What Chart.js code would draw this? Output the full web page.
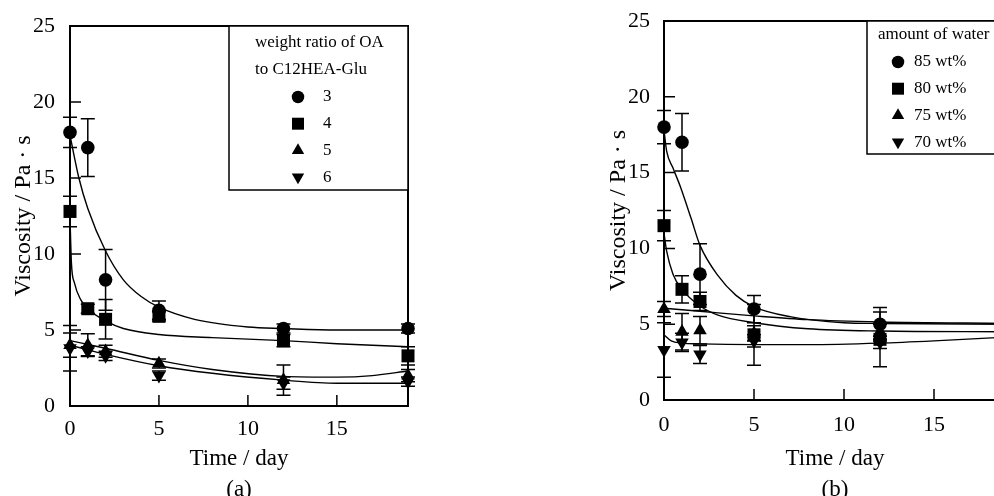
<!DOCTYPE html>
<html>
<head>
<meta charset="utf-8">
<script src="https://cdn.jsdelivr.net/npm/chart.js@4.4.1/dist/chart.umd.min.js"></script>
<style>
  html, body { margin: 0; padding: 0; background: #fff; overflow: hidden; width: 994px; height: 496px; }
  #chartA { position: absolute; left: 0; top: 0; }
  #chartB { position: absolute; left: 560px; top: 0; }
</style>
</head>
<body>
<canvas id="chartA" width="480" height="496"></canvas>
<canvas id="chartB" width="470" height="496"></canvas>
<script>
// ---- panel (a): weight ratio of OA to C12HEA-Glu ----
const daysA = [0, 1, 2, 5, 12, 19];
const ratio3 = [18.0, 17.0, 8.3, 6.3, 5.1, 5.1];
const ratio3Err = [1.0, 1.9, 2.0, 0.6, 0.3, 0.3];
const ratio4 = [12.8, 6.4, 5.7, 5.9, 4.3, 3.3];
const ratio4Err = [1.0, 0.3, 1.3, 0.3, 0.4, 0.6];
const ratio5 = [4.0, 4.0, 3.6, 2.8, 1.7, 2.0];
const ratio5Err = [0.8, 0.75, 0.4, 0.3, 1.0, 0.4];
const ratio6 = [3.8, 3.6, 3.3, 2.0, 1.5, 1.6];
const ratio6Err = [1.5, 0.3, 0.3, 0.3, 0.4, 0.3];

// fitted curves
const fit3A = [[0, 17.8], [0.5, 15.0], [1, 13.0], [2, 10.2], [3, 8.3], [4, 7.2], [5, 6.5], [7, 5.7], [10, 5.2], [12, 5.1], [15, 5.0], [19, 5.0]];
const fit4A = [[0, 12.4], [0.08, 9.4], [0.25, 8.1], [0.6, 7.0], [1, 6.4], [2, 5.6], [3, 5.1], [5, 4.7], [8, 4.5], [12, 4.3], [15, 4.1], [19, 3.9]];
const fit5A = [[0, 4.3], [1, 4.05], [2, 3.8], [5, 3.0], [8, 2.4], [12, 1.95], [15, 1.9], [17, 2.0], [19, 2.3]];
const fit6A = [[0, 4.0], [1, 3.7], [2, 3.4], [5, 2.65], [8, 2.15], [12, 1.7], [15, 1.5], [19, 1.5]];

const labelsA = ['3', '4', '5', '6'];
const headerA = ['weight ratio of OA', 'to C12HEA-Glu'];

// ---- panel (b): amount of water ----
const daysB = [0, 1, 2, 5, 12];
const water85 = [18.0, 17.0, 8.3, 6.0, 5.0];
const water85Err = [1.1, 1.9, 2.0, 0.9, 1.1];
const water80 = [11.5, 7.3, 6.5, 4.3, 4.0];
const water80Err = [1.0, 0.9, 0.6, 2.0, 1.8];
const water75 = [6.0, 4.5, 4.6, 4.4, 4.5];
const water75Err = [0.5, 1.2, 0.9, 0.5, 0.5];
const water70 = [3.3, 3.8, 3.0, 3.9, 3.8];
const water70Err = [1.8, 0.6, 0.6, 0.4, 0.4];

const fit85B = [[0, 17.8], [0.15, 16.4], [0.5, 15.3], [0.9, 14.1], [1.5, 12.0], [2, 10.2], [3, 8.2], [4, 6.9], [5, 6.15], [7, 5.5], [10, 5.1], [12, 5.05], [19, 5.0]];
const fit80B = [[0, 11.0], [0.15, 9.8], [0.5, 8.3], [1, 7.3], [2, 6.2], [3, 5.6], [5, 5.1], [8, 4.7], [12, 4.55], [19, 4.5]];
const fit75B = [[0, 6.05], [2, 5.85], [5, 5.55], [8, 5.3], [12, 5.15], [19, 5.05]];
const fit70B = [[0, 4.3], [0.4, 3.9], [1, 3.75], [2, 3.7], [5, 3.65], [8, 3.65], [12, 3.75], [15, 3.9], [19, 4.15]];

const labelsB = ['85 wt%', '80 wt%', '75 wt%', '70 wt%'];
const headerB = ['amount of water'];

const SERIF = '"Liberation Serif", "Times New Roman", serif';
const markers = [
  { pointStyle: 'circle', pointRadius: 6.8, rotation: 0 },
  { pointStyle: 'rect', pointRadius: 9.2, rotation: 0 },
  { pointStyle: 'triangle', pointRadius: 7.8, rotation: 0 },
  { pointStyle: 'triangle', pointRadius: 7.8, rotation: 180 }
];

function pointSet(label, xs, ys, errs, m) {
  return {
    label,
    data: xs.map((x, i) => ({ x, y: ys[i] })),
    errors: errs,
    showLine: false,
    pointStyle: m.pointStyle,
    pointRadius: m.pointRadius,
    rotation: m.rotation,
    backgroundColor: '#000',
    borderColor: '#000',
    borderWidth: 0,
    clip: false
  };
}

function curveSet(pts) {
  return {
    label: 'fit',
    data: pts.map(p => ({ x: p[0], y: p[1] })),
    showLine: true,
    pointRadius: 0,
    borderColor: '#000',
    borderWidth: 1.4,
    cubicInterpolationMode: 'monotone',
    isFit: true
  };
}

// error bars drawn through the chart scales
const errorBars = {
  id: 'errorBars',
  beforeDatasetsDraw(chart) {
    const { ctx, scales: { x, y } } = chart;
    ctx.save();
    ctx.strokeStyle = '#000';
    ctx.lineWidth = 1.5;
    chart.data.datasets.forEach(ds => {
      if (!ds.errors) return;
      ds.data.forEach((p, i) => {
        const e = ds.errors[i];
        if (!e) return;
        const px = x.getPixelForValue(p.x);
        const top = y.getPixelForValue(p.y + e);
        const bot = y.getPixelForValue(Math.max(p.y - e, 0));
        ctx.beginPath();
        ctx.moveTo(px, top); ctx.lineTo(px, bot);
        ctx.moveTo(px - 7, top); ctx.lineTo(px + 7, top);
        ctx.moveTo(px - 7, bot); ctx.lineTo(px + 7, bot);
        ctx.stroke();
      });
    });
    ctx.restore();
  }
};

// box frame with inward tick marks
const axesBox = {
  id: 'axesBox',
  beforeDatasetsDraw(chart, args, opts) {
    const { ctx, chartArea: a, scales: { x, y } } = chart;
    const len = opts.tick || 11;
    ctx.save();
    ctx.strokeStyle = '#000';
    ctx.lineWidth = 2;
    ctx.strokeRect(a.left, a.top, a.right - a.left, a.bottom - a.top);
    ctx.lineWidth = 1.5;
    ctx.beginPath();
    x.ticks.forEach(t => {
      if (t.value <= x.min || t.value >= x.max) return;
      const px = x.getPixelForValue(t.value);
      ctx.moveTo(px, a.bottom); ctx.lineTo(px, a.bottom - len);
    });
    y.ticks.forEach(t => {
      if (t.value <= y.min || t.value >= y.max) return;
      const py = y.getPixelForValue(t.value);
      ctx.moveTo(a.left, py); ctx.lineTo(a.left + len, py);
    });
    ctx.stroke();
    ctx.restore();
  }
};

// boxed legend inside the plot
const boxLegend = {
  id: 'boxLegend',
  afterDatasetsDraw(chart, args, o) {
    const ctx = chart.ctx;
    ctx.save();
    ctx.fillStyle = '#fff';
    ctx.fillRect(o.left, o.top, o.right - o.left, o.bottom - o.top);
    ctx.strokeStyle = '#000';
    ctx.lineWidth = 1.5;
    ctx.strokeRect(o.left, o.top, o.right - o.left, o.bottom - o.top);
    ctx.fillStyle = '#000';
    ctx.font = '17px ' + SERIF;
    ctx.textBaseline = 'middle';
    ctx.textAlign = 'left';
    o.header.forEach((line, i) => ctx.fillText(line, o.headerX, o.headerY[i]));
    const sets = chart.data.datasets.filter(d => !d.isFit);
    sets.forEach((ds, i) => {
      const yy = o.itemY0 + i * o.itemStep;
      ctx.fillStyle = '#000';
      Chart.helpers.drawPoint(ctx, {
        pointStyle: ds.pointStyle, rotation: ds.rotation, radius: ds.pointRadius * 0.92, borderWidth: 0
      }, o.markX, yy);
      ctx.fillStyle = '#000';
      ctx.fillText(ds.label, o.labelX, yy);
    });
    ctx.restore();
  }
};

function makeChart(id, cfg) {
  return new Chart(document.getElementById(id), {
    type: 'scatter',
    data: { datasets: cfg.datasets },
    options: {
      responsive: false,
      animation: false,
      events: [],
      layout: { padding: cfg.padding },
      scales: {
        x: {
          type: 'linear', min: 0, max: 19,
          grid: { display: false },
          border: { display: false },
          ticks: { stepSize: 5, includeBounds: false, padding: cfg.xPad, color: '#000', font: { family: SERIF, size: 22 } },
          title: {
            display: true, text: cfg.xTitle, color: '#000',
            font: { family: SERIF, size: 23, lineHeight: 31 / 23 },
            padding: { top: 0, bottom: -9 }
          },
          afterFit(s) { s.height = cfg.xHeight; }
        },
        y: {
          min: 0, max: 25,
          grid: { display: false },
          border: { display: false },
          ticks: { stepSize: 5, padding: cfg.yPad, color: '#000', font: { family: SERIF, size: 22 } },
          title: {
            display: true, text: 'Viscosity / Pa \u00b7 s', color: '#000',
            font: { family: SERIF, size: 24 },
            padding: { top: cfg.yTitlePad, bottom: 0 }
          },
          afterFit(s) { s.width = cfg.yWidth; }
        }
      },
      plugins: {
        legend: { display: false },
        tooltip: { enabled: false },
        axesBox: { tick: 11 },
        boxLegend: cfg.legend
      }
    },
    plugins: [axesBox, errorBars, boxLegend]
  });
}

makeChart('chartA', {
  datasets: [
    curveSet(fit3A), curveSet(fit4A), curveSet(fit5A), curveSet(fit6A),
    pointSet(labelsA[0], daysA, ratio3, ratio3Err, markers[0]),
    pointSet(labelsA[1], daysA, ratio4, ratio4Err, markers[1]),
    pointSet(labelsA[2], daysA, ratio5, ratio5Err, markers[2]),
    pointSet(labelsA[3], daysA, ratio6, ratio6Err, markers[3])
  ],
  padding: { left: 0, top: 26, right: 72, bottom: 0 },
  xHeight: 90, yWidth: 70, xPad: 2, yPad: 7, yTitlePad: 9,
  xTitle: ['Time / day', '(a)'],
  legend: {
    left: 229, top: 26, right: 408, bottom: 190,
    header: headerA, headerX: 255, headerY: [43, 70],
    markX: 298, labelX: 323, itemY0: 97, itemStep: 26.7
  }
});

makeChart('chartB', {
  datasets: [
    curveSet(fit85B), curveSet(fit80B), curveSet(fit75B), curveSet(fit70B),
    pointSet(labelsB[0], daysB, water85, water85Err, markers[0]),
    pointSet(labelsB[1], daysB, water80, water80Err, markers[1]),
    pointSet(labelsB[2], daysB, water75, water75Err, markers[2]),
    pointSet(labelsB[3], daysB, water70, water70Err, markers[3])
  ],
  padding: { left: 0, top: 21, right: 24, bottom: 0 },
  xHeight: 96, yWidth: 104, xPad: 4, yPad: 6, yTitlePad: 44,
  xTitle: ['Time / day', '(b)'],
  legend: {
    left: 307, top: 21, right: 446, bottom: 154,
    header: headerB, headerX: 318, headerY: [35],
    markX: 338, labelX: 354, itemY0: 62, itemStep: 26.7
  }
});
</script>
</body>
</html>
